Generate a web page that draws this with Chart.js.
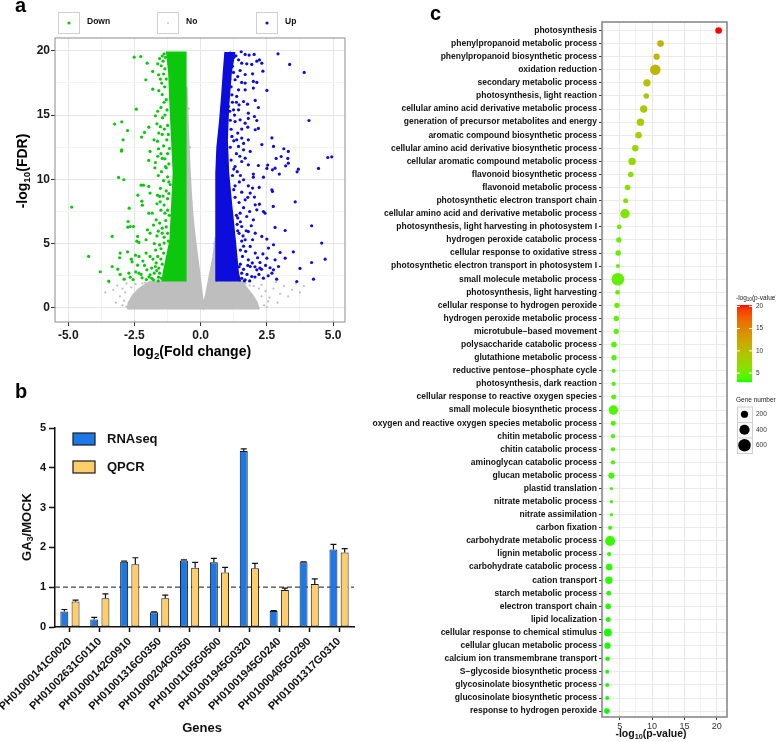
<!DOCTYPE html>
<html><head><meta charset="utf-8">
<script src="https://cdn.jsdelivr.net/npm/chart.js@4.4.1/dist/chart.umd.min.js"></script>
<style>
html,body{margin:0;padding:0;background:#fff;}
#wrap{position:relative;width:776px;height:742px;overflow:hidden;background:#fff;}
canvas{position:absolute;}
</style></head><body>
<div id="wrap">
<canvas id="ca" width="370" height="362" style="left:0;top:0"></canvas>
<canvas id="cb" width="370" height="380" style="left:0;top:362px"></canvas>
<canvas id="cc" width="416" height="742" style="left:360px;top:0"></canvas>
</div>
<script>
// ================= DATA =================
// Panel a: volcano plot, log2(fold change) vs -log10(FDR)
const downPoints = [[-4.87,7.84],[-4.23,4.00],[-3.79,2.81],[-3.47,2.08],[-3.34,5.56],[-3.25,14.30],[-2.98,14.48],[-2.76,13.80],[-2.93,13.08],[-2.98,12.30],[-2.99,12.20],[-3.10,10.15],[-2.90,9.97],[-2.70,7.76],[-2.74,6.72],[-2.75,6.28],[-2.51,19.51],[-2.26,19.56],[-2.43,15.46],[-2.02,19.04],[-2.07,17.75],[-1.81,18.40],[-1.59,18.14],[-1.81,17.02],[-1.62,18.99],[-1.49,18.84],[-1.47,17.49],[-1.38,19.77],[-1.71,14.95],[-1.96,14.06],[-2.12,13.65],[-2.23,13.29],[-1.65,14.32],[-1.37,13.91],[-1.76,13.08],[-1.63,12.97],[-1.28,13.08],[-1.91,12.17],[-1.59,12.38],[-1.96,11.47],[-1.71,11.31],[-1.45,11.63],[-1.73,10.90],[-1.33,11.00],[-2.25,9.55],[-2.16,9.55],[-1.96,9.45],[-2.37,8.77],[-2.22,8.30],[-2.20,7.99],[-1.91,8.93],[-1.63,8.77],[-1.53,8.25],[-1.55,8.67],[-1.96,7.37],[-1.83,7.37],[-1.68,6.85],[-1.35,7.37],[-2.66,6.33],[-2.54,6.33],[-2.38,5.56],[-2.41,5.19],[-2.33,5.09],[-2.06,5.30],[-1.91,5.81],[-2.01,6.07],[-1.60,5.97],[-1.45,5.81],[-1.78,6.44],[-3.04,4.26],[-3.06,3.90],[-2.76,4.36],[-2.62,3.79],[-2.59,3.58],[-2.46,4.10],[-2.33,4.00],[-2.18,3.64],[-2.06,4.26],[-1.91,4.00],[-3.34,3.22],[-3.13,3.01],[-3.04,2.60],[-2.71,2.70],[-2.66,2.39],[-2.38,3.32],[-2.33,2.70],[-2.21,2.34],[-2.03,2.96],[-1.91,2.57],[-1.71,3.22],[-1.55,2.70],[-1.78,2.18],[-1.59,2.39],[-1.40,4.26],[-1.38,5.04],[-2.89,2.23],[-1.30,16.2],[-1.35,15.0],[-1.25,12.0],[-1.20,9.8],[-1.25,8.5],[-1.30,6.3],[-1.50,4.6],[-1.45,3.4],[-1.60,2.1],[-1.35,18.6],[-1.30,10.9],
  [-1.45,19.6],[-1.55,19.4],[-1.42,19.2],[-1.33,19.5],[-1.40,18.2],[-1.52,17.8],[-1.36,17.2],[-1.45,16.6],[-1.58,16.9],[-1.30,17.8],[-1.38,16.0],[-1.50,15.6],[-1.27,15.4],[-1.62,15.3],[-1.44,14.8],[-1.52,14.1],[-1.25,14.2],[-1.45,13.5],[-1.58,13.6],[-1.22,13.5],[-1.40,12.6],[-1.50,12.0],[-1.18,12.4],[-1.35,11.6],[-1.62,11.8],[-1.20,11.2],[-1.48,10.6],[-1.25,10.2],[-1.60,10.3],[-1.40,9.9],[-1.15,9.6],[-1.52,9.3],[-1.30,9.1],[-1.42,8.7],[-1.20,8.9],[-1.65,8.1],[-1.38,8.0],[-1.25,7.6],[-1.50,7.6],[-1.18,7.2],[-1.55,6.6],[-1.32,6.8],[-1.45,6.2],[-1.25,5.8],[-1.65,5.6],[-1.38,5.5],[-1.22,5.2],[-1.75,5.0],[-1.55,4.9],[-1.70,4.5],[-1.62,4.0],[-1.80,3.8],[-1.50,3.8],[-1.68,3.5],[-1.85,3.1],[-1.58,3.1],[-1.95,2.4],[-1.75,2.7],[-1.48,2.3],[-2.05,2.2],[-1.85,2.3],[-1.66,2.9],[-2.12,3.3],[-2.25,2.6],[-2.45,2.8],[-2.55,2.2]];
const upPoints = [[1.11,19.82],[1.20,19.72],[1.33,19.61],[1.53,19.93],[1.68,19.72],[1.83,19.67],[2.02,19.72],[2.22,19.30],[2.31,19.04],[2.92,19.77],[3.36,18.94],[3.91,18.32],[1.43,19.30],[1.55,19.04],[1.74,18.99],[1.93,18.94],[2.12,19.20],[0.95,18.47],[1.05,18.27],[1.24,18.32],[1.49,18.47],[1.68,18.16],[1.96,18.21],[2.35,18.42],[1.30,17.75],[1.55,17.54],[1.68,17.49],[1.99,17.62],[2.12,17.54],[0.92,17.10],[1.05,16.97],[1.43,16.97],[1.68,16.97],[1.99,17.10],[2.50,16.92],[1.18,16.58],[1.36,16.45],[1.62,16.06],[2.06,16.14],[1.77,15.85],[2.18,15.59],[1.05,15.67],[1.24,15.41],[1.43,15.41],[1.80,15.15],[2.03,14.89],[2.12,14.58],[1.80,14.74],[1.49,14.63],[1.68,14.37],[4.09,14.58],[1.30,14.50],[1.55,13.91],[1.78,14.06],[2.06,13.86],[2.18,13.96],[1.18,13.34],[1.36,13.08],[1.55,13.21],[1.80,13.08],[2.69,13.23],[2.31,12.71],[2.75,12.56],[3.14,12.38],[3.31,12.17],[3.04,11.78],[2.85,11.63],[3.29,11.63],[1.43,12.56],[1.62,12.30],[1.87,12.17],[1.68,11.65],[4.80,11.70],[4.95,11.75],[1.55,11.39],[1.80,11.13],[2.18,11.08],[2.53,11.11],[2.50,10.85],[2.71,10.74],[2.81,10.87],[2.97,10.41],[3.21,11.05],[3.31,11.26],[3.64,10.59],[3.69,10.79],[4.45,10.85],[1.99,10.41],[1.99,10.17],[2.37,10.17],[1.62,9.97],[1.80,9.50],[1.96,9.32],[2.21,9.37],[1.87,8.93],[2.03,8.62],[2.69,9.19],[2.71,9.06],[3.57,8.25],[1.68,8.41],[2.06,8.02],[2.22,8.07],[2.12,7.63],[2.37,7.50],[2.43,7.37],[2.74,7.89],[1.49,7.37],[1.74,7.11],[1.99,6.85],[1.91,6.39],[1.55,6.33],[2.81,6.26],[3.19,6.02],[4.19,6.39],[1.80,5.94],[2.06,5.81],[1.96,5.30],[2.31,5.56],[2.50,5.35],[2.75,4.91],[2.56,4.65],[3.00,4.31],[2.50,3.87],[2.81,3.74],[3.19,3.87],[1.68,5.30],[1.87,4.78],[2.06,4.26],[2.24,3.53],[1.80,3.74],[4.57,5.04],[3.50,4.36],[4.19,3.53],[4.70,3.79],[1.87,3.22],[2.12,2.96],[2.24,3.09],[2.62,3.12],[2.75,2.96],[2.94,3.22],[2.37,2.31],[2.87,2.23],[2.69,2.70],[3.75,3.07],[3.63,2.05],[4.26,2.23],[1.55,2.70],[1.68,2.18],[1.93,2.44],[1.35,12.0],[1.30,9.5],[1.40,7.0],[1.50,4.5],[1.25,10.8],[1.20,16.0],[1.45,3.2],
  [1.55,2.3],[1.62,3.0],[1.75,2.6],[1.85,2.1],[1.95,3.5],[2.05,2.4],[1.58,4.0],[1.70,4.4],[1.50,3.4],[1.65,2.1],[2.15,3.9],[2.35,4.2],[2.45,3.3],[2.05,3.2],[1.78,3.3],[1.55,5.2],[1.45,5.8],[1.62,4.8],[2.20,2.6],[2.55,2.5],[2.30,3.0],[1.40,6.0],[1.50,6.7],[1.35,7.2],[1.62,7.8],[1.45,8.2],[1.30,8.6],[1.55,9.0],[1.72,6.0],[1.85,7.5],[1.38,6.5],[1.60,5.6],[1.78,8.6],[1.25,9.2],[1.46,9.8],[1.20,10.3],[1.38,10.6],[1.15,11.5],[1.30,11.0],[1.48,11.8],[1.12,12.5],[1.25,13.0],[1.40,13.6],[1.15,13.9],[1.62,12.8],[1.50,10.3],[1.12,14.6],[1.28,15.0],[1.10,15.3],[1.35,16.0],[1.15,17.2],[1.40,18.0],[1.20,18.8],[1.02,19.3],[1.10,17.8],[1.45,15.8],[1.25,19.5]];
const noPoints = [[-3.45,1.95],[-3.30,1.40],[-3.15,1.75],[-3.05,0.90],[-2.95,1.50],[-2.90,0.55],[-2.85,1.20],[-2.80,1.90],[-3.60,1.20],[-2.62,1.60],[-2.45,1.85],[-2.20,1.90],[-3.20,0.40],[-2.95,0.20],[2.30,1.80],[2.45,1.30],[2.60,0.80],[2.75,1.50],[2.90,0.40],[3.00,1.10],[3.15,1.70],[3.30,0.90],[3.45,1.40],[3.60,1.90],[3.75,1.20],[2.40,0.20],[2.55,0.50],[2.85,2.00],[3.90,1.70],[2.20,1.50],[2.00,1.70],[2.30,0.90],[-2.80,0.10],[2.50,0.05],[-2.10,1.95],[-1.95,1.90],[1.70,1.90],[1.85,1.75],[-0.40,12.5],[-0.45,15.5],[-0.35,8.2],[0.50,5.0]];
// outlines of the densely packed point clouds
const downCore = [[-0.56,2.05],[-0.56,19.9],[-1.28,19.9],[-1.20,18.3],[-1.15,15.7],[-1.09,13.1],[-1.03,10.5],[-1.09,7.9],[-1.15,5.3],[-1.41,2.7],[-1.45,2.05]];
const upCore = [[0.58,2.05],[0.58,10.5],[0.62,12.5],[0.72,14.5],[0.80,16.5],[0.86,18.3],[0.92,19.85],[1.28,19.85],[1.15,18.3],[1.05,15.7],[1.00,13.1],[1.05,10.5],[1.17,7.9],[1.30,5.3],[1.42,2.7],[1.50,2.05]];
const noCore = [[-2.75,-0.12],[-2.72,0.4],[-2.55,1.0],[-2.30,1.5],[-1.90,2.05],[-0.57,2.05],[-0.57,10],[-0.53,17.2],[-0.48,14],[-0.42,11],[-0.37,9],[-0.30,7],[-0.21,5.3],[-0.05,2.7],[0.05,1.0],[0.106,0.15],[0.20,1.0],[0.36,2.7],[0.48,4.0],[0.57,5.5],[0.60,2.05],[1.55,2.05],[1.75,1.5],[1.95,1.0],[2.12,0.4],[2.20,-0.12]];

// Panel b: GA3/MOCK ratios
const geneIds = ['PH01000141G0020','PH01002631G0110','PH01000142G0910','PH01001316G0350','PH01000204G0350','PH01001105G0500','PH01001945G0320','PH01001945G0240','PH01000405G0290','PH01001317G0310'];
const rnaSeq    = [0.39,0.19,1.64,0.37,1.67,1.625,4.42,0.40,1.625,1.95];
const rnaSeqErr = [0.05,0.05,0.015,0.01,0.015,0.10,0.055,0.01,0.01,0.125];
const qpcr      = [0.64,0.72,1.575,0.725,1.49,1.37,1.475,0.93,1.08,1.87];
const qpcrErr   = [0.035,0.11,0.165,0.075,0.135,0.13,0.125,0.045,0.13,0.10];
const refRatio = 1;

// Panel c: GO enrichment
const goTerms = ['photosynthesis','phenylpropanoid metabolic process','phenylpropanoid biosynthetic process','oxidation reduction','secondary metabolic process','photosynthesis, light reaction','cellular amino acid derivative metabolic process','generation of precursor metabolites and energy','aromatic compound biosynthetic process','cellular amino acid derivative biosynthetic process','cellular aromatic compound metabolic process','flavonoid biosynthetic process','flavonoid metabolic process','photosynthetic electron transport chain','cellular amino acid and derivative metabolic process','photosynthesis, light harvesting in photosystem I','hydrogen peroxide catabolic process','cellular response to oxidative stress','photosynthetic electron transport in photosystem I','small molecule metabolic process','photosynthesis, light harvesting','cellular response to hydrogen peroxide','hydrogen peroxide metabolic process','microtubule\u2212based movement','polysaccharide catabolic process','glutathione metabolic process','reductive pentose\u2212phosphate cycle','photosynthesis, dark reaction','cellular response to reactive oxygen species','small molecule biosynthetic process','oxygen and reactive oxygen species metabolic process','chitin metabolic process','chitin catabolic process','aminoglycan catabolic process','glucan metabolic process','plastid translation','nitrate metabolic process','nitrate assimilation','carbon fixation','carbohydrate metabolic process','lignin metabolic process','carbohydrate catabolic process','cation transport','starch metabolic process','electron transport chain','lipid localization','cellular response to chemical stimulus','cellular glucan metabolic process','calcium ion transmembrane transport','S\u2212glycoside biosynthetic process','glycosinolate biosynthetic process','glucosinolate biosynthetic process','response to hydrogen peroxide'];
const goLogP = [20.3,11.3,10.7,10.5,9.2,9.1,8.7,8.2,7.9,7.4,6.9,6.7,6.2,5.9,5.8,4.9,4.85,4.75,4.7,4.7,4.65,4.55,4.45,4.45,4.1,4.1,4.05,4.05,4.05,4.0,4.0,3.95,3.95,3.95,3.7,3.7,3.7,3.7,3.5,3.5,3.35,3.35,3.3,3.3,3.2,3.2,3.15,3.1,3.1,3.05,3.05,3.05,3.0];
const goGenes = [170,170,150,430,210,120,210,210,170,160,210,120,120,96,340,85,110,120,62,610,85,110,110,110,120,110,72,72,96,340,96,72,72,72,150,44,44,44,72,385,72,170,210,96,120,96,246,150,85,62,62,62,120];
const colorbarTicks = [5,10,15,20];
const sizeLegendValues = [200,400,600];

// ================= HELPERS =================
const FONT = "'Liberation Sans', Arial, Helvetica, sans-serif";
const GREEN = '#0cc80c', BLUE = '#0c0cdc', GRAY = '#bebebe';
const BAR_BLUE = '#1b78e6', BAR_ORANGE = '#ffcd6a';
const pts = arr => arr.map(([x, y]) => ({x, y}));
const isMaj = (v, s) => Math.abs(v / s - Math.round(v / s)) < 1e-6;
const noPad = s => { s.paddingLeft = 0; s.paddingRight = 0; s.paddingTop = 0; s.paddingBottom = 0; };

function srgbToLin(c){c/=255;return c<=0.04045?c/12.92:Math.pow((c+0.055)/1.055,2.4);}
function linToSrgb(c){c=c<=0.0031308?12.92*c:1.055*Math.pow(Math.max(c,0),1/2.4)-0.055;return Math.round(Math.max(0,Math.min(1,c))*255);}
function rgb2lab(rgb){const R=srgbToLin(rgb[0]),G=srgbToLin(rgb[1]),B=srgbToLin(rgb[2]);
  const X=(0.4124*R+0.3576*G+0.1805*B)/0.95047,Y=0.2126*R+0.7152*G+0.0722*B,Z=(0.0193*R+0.1192*G+0.9505*B)/1.08883;
  const f=t=>t>0.008856?Math.cbrt(t):(7.787*t+16/116);const fx=f(X),fy=f(Y),fz=f(Z);
  return [116*fy-16,500*(fx-fy),200*(fy-fz)];}
function lab2rgb(lab){const fy=(lab[0]+16)/116,fx=fy+lab[1]/500,fz=fy-lab[2]/200;
  const fi=t=>t>0.206893?t*t*t:(t-16/116)/7.787;
  const X=fi(fx)*0.95047,Y=fi(fy),Z=fi(fz)*1.08883;
  return [linToSrgb(3.2406*X-1.5372*Y-0.4986*Z),linToSrgb(-0.9689*X+1.8758*Y+0.0415*Z),linToSrgb(0.0557*X-0.2040*Y+1.0570*Z)];}
const LAB_LO = rgb2lab([0,255,0]), LAB_HI = rgb2lab([255,0,0]);
function gradColor(v, min, max){const t=Math.max(0,Math.min(1,(v-min)/(max-min)));
  const c=lab2rgb(LAB_LO.map((a,i)=>a+(LAB_HI[i]-a)*t));return `rgb(${c[0]},${c[1]},${c[2]})`;}
const pMin = Math.min(...goLogP), pMax = Math.max(...goLogP);
const geneRadius = n => 0.255 * Math.sqrt(n);

function drawRich(ctx, parts, x, y, size, weight, color, rot, align){
  ctx.save(); ctx.translate(x, y); if (rot) ctx.rotate(rot);
  let w = 0;
  for (const p of parts){ ctx.font = `${weight} ${p.sub ? size*0.7 : size}px ${FONT}`; w += ctx.measureText(p.t).width; }
  let cx = align === 'left' ? 0 : -w/2;
  ctx.fillStyle = color; ctx.textBaseline = 'middle'; ctx.textAlign = 'left';
  for (const p of parts){ ctx.font = `${weight} ${p.sub ? size*0.7 : size}px ${FONT}`;
    ctx.fillText(p.t, cx, p.sub ? size*0.3 : 0); cx += ctx.measureText(p.t).width; }
  ctx.restore();
}
function frame(color, width){ return {id:'frame', afterDatasetsDraw(chart){ const {ctx, chartArea:a} = chart;
  ctx.save(); ctx.strokeStyle = color; ctx.lineWidth = width; ctx.strokeRect(a.left, a.top, a.right-a.left, a.bottom-a.top); ctx.restore(); }}; }
function letter(ctx, t, x, y){ ctx.save(); ctx.font = `bold 20px ${FONT}`; ctx.fillStyle = '#000'; ctx.textBaseline='alphabetic'; ctx.textAlign='left'; ctx.fillText(t, x, y); ctx.restore(); }

const baseOpts = { responsive:false, animation:false, events:[], devicePixelRatio:1 };

// ================= PANEL A =================
const legendA = {id:'legendA', afterDraw(chart){
  const ctx = chart.ctx;
  letter(ctx, 'a', 15, 12);
  const items = [{t:'Down', c:GREEN, r:1.6, x:58},{t:'No', c:GRAY, r:0.9, x:157},{t:'Up', c:BLUE, r:1.6, x:256}];
  for (const it of items){
    ctx.save(); ctx.fillStyle = '#fff'; ctx.strokeStyle = '#cfcfcf'; ctx.lineWidth = 1;
    ctx.fillRect(it.x, 12, 21, 21); ctx.strokeRect(it.x+0.5, 12.5, 21, 21);
    ctx.fillStyle = it.c; ctx.beginPath(); ctx.arc(it.x+11, 23, it.r, 0, Math.PI*2); ctx.fill();
    ctx.fillStyle = '#111'; ctx.font = `bold 8.5px ${FONT}`; ctx.textBaseline='middle'; ctx.fillText(it.t, it.x+29, 22);
    ctx.restore();
  }
  drawRich(ctx, [{t:'log'},{t:'2',sub:true},{t:'(Fold change)'}], 192, 352, 14, 'bold', '#000');
  drawRich(ctx, [{t:'-log'},{t:'10',sub:true},{t:'(FDR)'}], 23, 171, 14, 'bold', '#000', -Math.PI/2);
}};
new Chart(document.getElementById('ca'), {
  type:'scatter',
  data:{ datasets:[
    {label:'Down', data:pts(downPoints), backgroundColor:GREEN, borderWidth:0, pointRadius:1.6, order:1},
    {label:'Up', data:pts(upPoints), backgroundColor:BLUE, borderWidth:0, pointRadius:1.6, order:1},
    {label:'Down (dense)', type:'line', data:pts(downCore), fill:'shape', backgroundColor:GREEN, borderColor:GREEN, borderWidth:1.5, pointRadius:0, tension:0, order:2},
    {label:'Up (dense)', type:'line', data:pts(upCore), fill:'shape', backgroundColor:BLUE, borderColor:BLUE, borderWidth:1.5, pointRadius:0, tension:0, order:2},
    {label:'No', data:pts(noPoints), backgroundColor:GRAY, borderWidth:0, pointRadius:1.1, order:3},
    {label:'No (dense)', type:'line', data:pts(noCore), fill:'shape', backgroundColor:GRAY, borderColor:GRAY, borderWidth:2, pointRadius:0, tension:0, order:4}
  ]},
  options:{ ...baseOpts,
    layout:{ padding:{top:38, right:25, left:0, bottom:0}, autoPadding:false },
    plugins:{ legend:{display:false}, tooltip:{enabled:false} },
    scales:{
      x:{ type:'linear', min:-5.5, max:5.45, afterFit:s=>{ s.height = 40; noPad(s); },
        border:{display:false},
        grid:{ color:c=> (c.tick && isMaj(c.tick.value,2.5)) ? '#e6e6e6' : '#f3f3f3', tickLength:4,
               tickColor:c=> (c.tick && isMaj(c.tick.value,2.5)) ? '#333' : 'rgba(0,0,0,0)' },
        ticks:{ stepSize:1.25, includeBounds:false, autoSkip:false, maxRotation:0, padding:2, color:'#1a1a1a',
                font:{family:FONT, size:12, weight:'bold'}, callback:v=> isMaj(v,2.5) ? v.toFixed(1) : '' } },
      y:{ type:'linear', min:-1.1, max:21, afterFit:s=>{ s.width = 55; noPad(s); },
        border:{display:false},
        grid:{ color:c=> (c.tick && isMaj(c.tick.value,5)) ? '#e6e6e6' : '#f3f3f3', tickLength:4,
               tickColor:c=> (c.tick && isMaj(c.tick.value,5)) ? '#333' : 'rgba(0,0,0,0)' },
        ticks:{ stepSize:2.5, includeBounds:false, autoSkip:false, padding:1, color:'#1a1a1a',
                font:{family:FONT, size:12, weight:'bold'}, callback:v=> isMaj(v,5) ? String(Math.round(v)) : '' } }
    }
  },
  plugins:[frame('#8c8c8c', 1), legendA]
});

// ================= PANEL B =================
const errorBars = {id:'errorBars', afterDatasetsDraw(chart){
  const ctx = chart.ctx, ys = chart.scales.y, vals = [rnaSeq, qpcr], errs = [rnaSeqErr, qpcrErr];
  ctx.save(); ctx.strokeStyle = '#111'; ctx.lineWidth = 1.2;
  chart.data.datasets.forEach((ds, i) => {
    chart.getDatasetMeta(i).data.forEach((bar, j) => {
      const yT = ys.getPixelForValue(vals[i][j] + errs[i][j]);
      ctx.beginPath(); ctx.moveTo(bar.x, bar.y); ctx.lineTo(bar.x, yT);
      ctx.moveTo(bar.x - 3, yT); ctx.lineTo(bar.x + 3, yT); ctx.stroke();
    });
  });
  ctx.restore();
}};
const refLine = {id:'refLine', beforeDatasetsDraw(chart){
  const {ctx, chartArea:a, scales:{y}} = chart; const py = y.getPixelForValue(refRatio);
  ctx.save(); ctx.setLineDash([5,3]); ctx.strokeStyle = '#444'; ctx.lineWidth = 1.2;
  ctx.beginPath(); ctx.moveTo(a.left, py); ctx.lineTo(a.right, py); ctx.stroke(); ctx.restore();
}};
const legendB = {id:'legendB', afterDraw(chart){
  const ctx = chart.ctx;
  letter(ctx, 'b', 15, 36);
  chart.data.datasets.forEach((ds, i) => {
    const y0 = 71 + i*28;
    ctx.save(); ctx.fillStyle = ds.backgroundColor; ctx.strokeStyle = '#1a1a1a'; ctx.lineWidth = 1.2;
    ctx.fillRect(73, y0, 22, 12); ctx.strokeRect(73, y0, 22, 12);
    ctx.fillStyle = '#111'; ctx.font = `bold 13px ${FONT}`; ctx.textBaseline = 'middle'; ctx.fillText(ds.label, 107, y0 + 6.5);
    ctx.restore();
  });
  drawRich(ctx, [{t:'GA'},{t:'3',sub:true},{t:'/MOCK'}], 27, 165, 13, 'bold', '#111', -Math.PI/2);
  drawRich(ctx, [{t:'Genes'}], 202, 366, 13, 'bold', '#111');
}};
new Chart(document.getElementById('cb'), {
  type:'bar',
  data:{ labels:geneIds, datasets:[
    {label:'RNAseq', data:rnaSeq, backgroundColor:BAR_BLUE, borderColor:'#1a1a1a', borderWidth:1, borderSkipped:false, barPercentage:0.71, categoryPercentage:0.75},
    {label:'QPCR', data:qpcr, backgroundColor:BAR_ORANGE, borderColor:'#1a1a1a', borderWidth:1, borderSkipped:false, barPercentage:0.71, categoryPercentage:0.75}
  ]},
  options:{ ...baseOpts,
    layout:{ padding:{top:66, right:16, left:0, bottom:0}, autoPadding:false },
    plugins:{ legend:{display:false}, tooltip:{enabled:false} },
    scales:{
      x:{ afterFit:s=>{ s.height = 115; noPad(s); },
        border:{color:'#111', width:1.5},
        grid:{ drawOnChartArea:false, offset:false, tickLength:5, tickColor:'#111', tickWidth:1.5 },
        ticks:{ minRotation:45, maxRotation:45, autoSkip:false, padding:3, color:'#111', font:{family:FONT, size:11, weight:'bold'} } },
      y:{ min:0, max:5, afterFit:s=>{ s.width = 55; noPad(s); },
        border:{color:'#111', width:1.5},
        grid:{ drawOnChartArea:false, tickLength:6, tickColor:'#111', tickWidth:1.5 },
        ticks:{ stepSize:1, padding:3, color:'#111', font:{family:FONT, size:11, weight:'bold'} } }
    }
  },
  plugins:[refLine, errorBars, legendB]
});

// ================= PANEL C =================
const legendC = {id:'legendC', afterDraw(chart){
  const ctx = chart.ctx;
  letter(ctx, 'c', 70, 20);
  const bx = 377, bw = 15, bTop = 305, bBot = 382, bh = bBot - bTop;
  drawRich(ctx, [{t:'-log'},{t:'10',sub:true},{t:'(p-value)'}], bx - 1, 298, 6.5, 'normal', '#222', 0, 'left');
  for (let y = bTop; y < bBot; y++){
    const v = pMax - (y - bTop + 0.5) / bh * (pMax - pMin);
    ctx.fillStyle = gradColor(v, pMin, pMax); ctx.fillRect(bx, y, bw, 1.2);
  }
  ctx.save(); ctx.font = `6.5px ${FONT}`; ctx.textBaseline = 'middle'; ctx.fillStyle = '#333';
  for (const v of colorbarTicks){
    const y = bBot - (v - pMin) / (pMax - pMin) * bh;
    ctx.strokeStyle = '#fff'; ctx.lineWidth = 1;
    ctx.beginPath(); ctx.moveTo(bx, y); ctx.lineTo(bx + 3, y); ctx.moveTo(bx + bw - 3, y); ctx.lineTo(bx + bw, y); ctx.stroke();
    ctx.fillText(String(v), bx + bw + 4, y);
  }
  ctx.restore();
  drawRich(ctx, [{t:'Gene number'}], bx - 1, 400, 6.5, 'normal', '#222', 0, 'left');
  sizeLegendValues.forEach((n, i) => {
    const y0 = 406.5 + i * 15.5;
    ctx.save(); ctx.fillStyle = '#fafafa'; ctx.strokeStyle = '#d0d0d0'; ctx.lineWidth = 1;
    ctx.fillRect(bx, y0, bw, 15.5); ctx.strokeRect(bx + 0.5, y0 + 0.5, bw, 15.5);
    ctx.fillStyle = '#000'; ctx.beginPath(); ctx.arc(bx + bw/2, y0 + 7.75, geneRadius(n), 0, Math.PI*2); ctx.fill();
    ctx.fillStyle = '#333'; ctx.font = `6.5px ${FONT}`; ctx.textBaseline = 'middle'; ctx.fillText(String(n), bx + bw + 4, y0 + 7.75);
    ctx.restore();
  });
  drawRich(ctx, [{t:'-log'},{t:'10',sub:true},{t:'(p-value)'}], 291, 734, 10.5, 'bold', '#111');
}};
new Chart(document.getElementById('cc'), {
  type:'scatter',
  data:{ datasets:[{ label:'GO terms', data:goTerms.map((t, i) => ({x:goLogP[i], y:i + 1})),
    pointRadius:c => geneRadius(goGenes[c.dataIndex]),
    backgroundColor:c => gradColor(goLogP[c.dataIndex], pMin, pMax), borderWidth:0 }]},
  options:{ ...baseOpts,
    layout:{ padding:{top:22, right:49, left:0, bottom:0}, autoPadding:false },
    plugins:{ legend:{display:false}, tooltip:{enabled:false} },
    scales:{
      x:{ type:'linear', min:2.24, max:21.6, afterFit:s=>{ s.height = 25; noPad(s); },
        border:{display:false},
        grid:{ color:c=> (c.tick && isMaj(c.tick.value,5)) ? '#e6e6e6' : '#f3f3f3', tickLength:3,
               tickColor:c=> (c.tick && isMaj(c.tick.value,5)) ? '#333' : 'rgba(0,0,0,0)' },
        ticks:{ stepSize:2.5, includeBounds:false, autoSkip:false, maxRotation:0, padding:1, color:'#333',
                font:{family:FONT, size:9}, callback:v=> isMaj(v,5) ? String(Math.round(v)) : '' } },
      y:{ type:'linear', reverse:true, min:0.35, max:53.45, afterFit:s=>{ s.width = 242; noPad(s); },
        border:{display:false},
        grid:{ color:'#ebebeb', tickLength:3, tickColor:'#333' },
        ticks:{ stepSize:1, includeBounds:false, autoSkip:false, padding:2, color:'#111',
                font:{family:FONT, size:8.5, weight:'bold'}, callback:v=> goTerms[Math.round(v) - 1] || '' } }
    }
  },
  plugins:[frame('#8a8a8a', 1.6), legendC]
});
</script>
</body></html>
